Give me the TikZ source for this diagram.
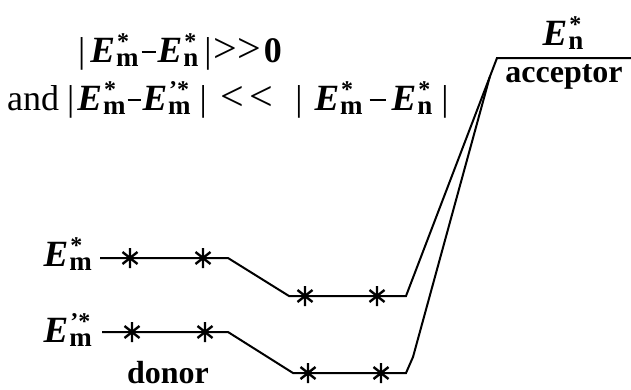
\documentclass[tikz,border=0pt]{standalone}
\usetikzlibrary{calc}
\usepackage{fontspec}
\setmainfont{Liberation Serif}
\newcommand{\EE}[2]{{\fontsize{37}{40}\selectfont\bfseries\itshape E}\kern1pt\makebox[0pt][l]{\kern1pt\raisebox{13pt}{\fontsize{24}{24}\selectfont\bfseries #1}}\raisebox{-4pt}{\fontsize{27}{27}\selectfont\bfseries #2}}
\newcommand{\mns}[3][2pt]{\kern#1\rule[9pt]{#2}{1.8pt}\kern#3}
\newcommand{\rel}[1]{{\fontsize{42}{42}\selectfont #1}}
\begin{document}
\begin{tikzpicture}[x=1pt,y=-1pt,
  txt/.style={inner sep=0pt,font=\fontsize{32}{38}\selectfont},
  frm/.style={inner sep=0pt,font=\fontsize{36}{40}\selectfont},
  lvl/.style={line width=2pt,line join=miter},
  astr/.pic={\draw[line width=2.4pt] (0,-10)--(0,10) (-7.5,-6)--(7.5,6) (-7.5,6)--(7.5,-6);}]
\useasboundingbox (0,0) rectangle (631,389);
% texts
\node[frm,anchor=base west] (cond1) at (78,62) {|\kern5pt\EE{*}{m}\mns[3pt]{14pt}{2pt}\EE{*}{n}\kern6pt|\kern2pt\rel{>}\kern0pt\rel{>}\kern3pt\textbf{0}};
\node[frm,anchor=base west] (cond2) at (7,110) {and\kern8pt|\kern3pt\EE{*}{m}\mns{13pt}{2pt}\EE{’*}{m}\kern9pt|\kern14pt\rel{<}\kern5pt\rel{<}\kern22pt|\kern12pt\EE{*}{m}\mns[7pt]{16pt}{6pt}\EE{*}{n}\kern9pt|};
\node[txt,anchor=base] (enlab) at (563,45) {\EE{*}{n}};
\node[txt,anchor=base] (acc) at (564,82) {\textbf{acceptor}};
\node[txt,anchor=base east] (emlab) at (92,266) {\EE{*}{m}};
\node[txt,anchor=base east] (emplab) at (92,342) {\EE{’*}{m}};
\node[txt,anchor=base] (don) at (168,383) {\textbf{donor}};
% coordinates
\coordinate (a1) at (100,258);
\coordinate (a2) at (228,258);
\coordinate (a3) at (289,296);
\coordinate (a4) at (406,296);
\coordinate (acl) at (497,58);
\coordinate (acr) at (631,58);
\coordinate (b1) at (102,332);
\coordinate (b2) at (228,332);
\coordinate (b3) at (293,373);
\coordinate (b4) at (406,373);
\coordinate (b5) at (413,357);
\coordinate (b6) at ($(a4)!0.92!(acl)$);
% levels
\draw[lvl] (a1) -- (a2) -- (a3) -- (a4) -- (acl) -- (acr);
\draw[lvl] (b1) -- (b2) -- (b3) -- (b4) -- (b5) -- (b6);
% asterisks
\pic at (130,258) {astr};
\pic at (203,258) {astr};
\pic at (305,296) {astr};
\pic at (377,296) {astr};
\pic at (132,332) {astr};
\pic at (205,332) {astr};
\pic at (308,373) {astr};
\pic at (381,373) {astr};
\end{tikzpicture}
\end{document}
